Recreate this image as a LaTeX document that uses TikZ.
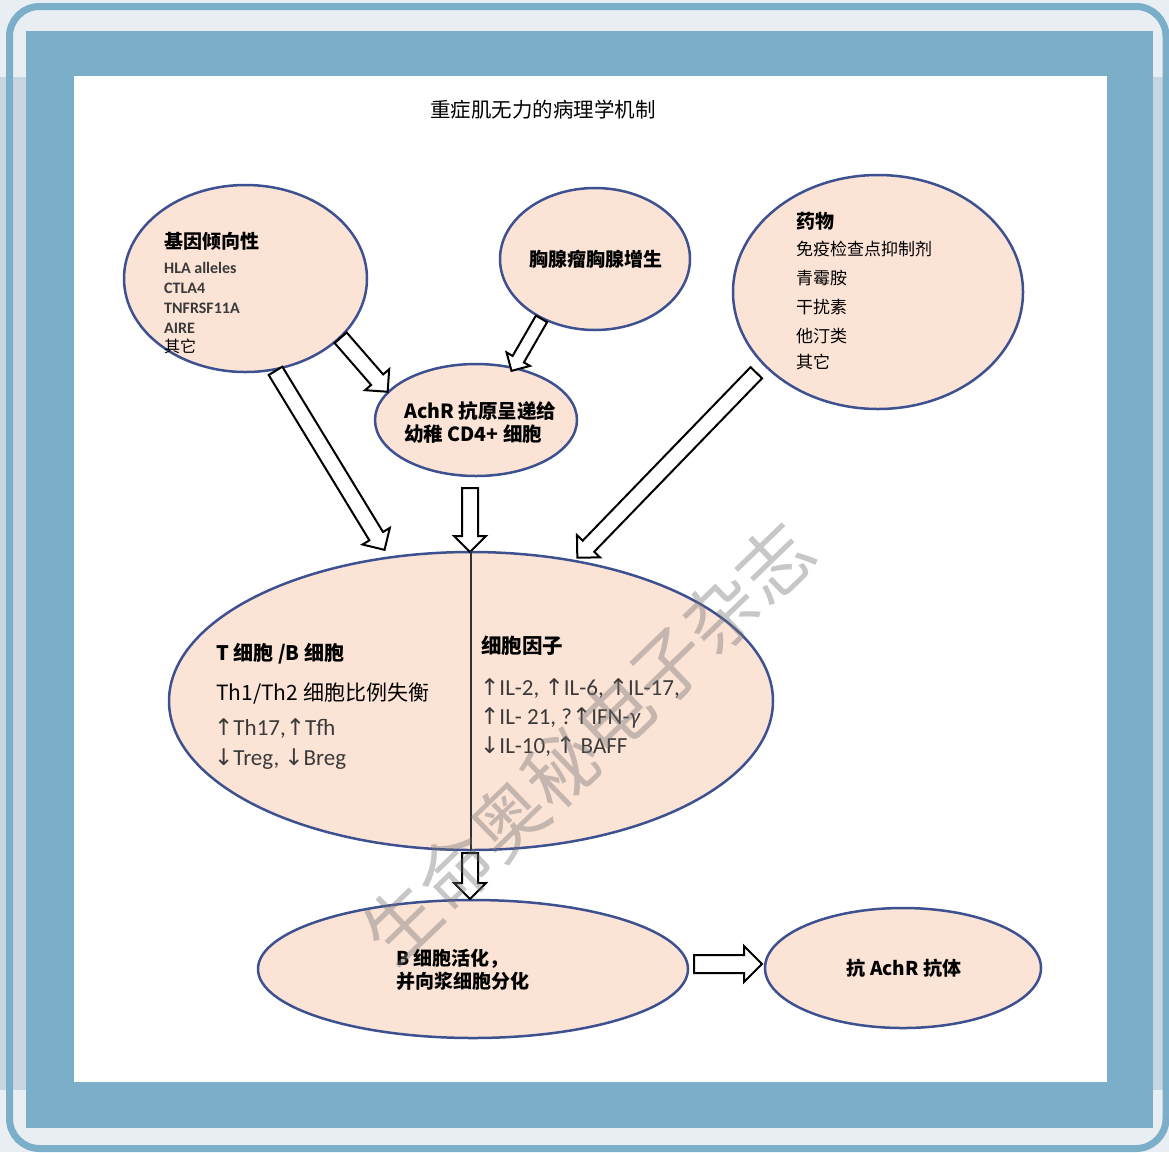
\documentclass[tikz,border=0pt]{standalone}
\usepackage{fontspec}
\setmainfont{Noto Sans CJK SC}
\newfontfamily\carlfont{Carlito}
\newfontfamily\arrfont{DejaVu Sans}
\usetikzlibrary{shapes.geometric,shapes.arrows,calc}

\definecolor{frameblue}{HTML}{7BAFC9}
\definecolor{pagegray}{HTML}{E9EEF2}
\definecolor{stripgray}{HTML}{C8D6E1}
\definecolor{peach}{HTML}{FBE3D6}
\definecolor{rimblue}{HTML}{3D5090}
\definecolor{listgray}{HTML}{3A3A3A}

\newcommand{\fsz}[1]{\fontsize{#1}{#1}\selectfont}
\newcommand{\ua}{{\arrfont ↑}}
\newcommand{\da}{{\arrfont ↓}}
% hollow block arrow from #2 to #3
\newcommand{\hollow}[3][]{\path let \p1=($(#3)-(#2)$), \n1={veclen(\x1,\y1)}, \n2={atan2(\y1,\x1)} in
  node[blockarrow,#1,rotate=\n2,minimum height=\n1] at (#2) {};}

\tikzset{
  oval/.style={ellipse, draw=rimblue, fill=peach, line width=2.5pt, inner sep=0pt},
  hd/.style={inner sep=0pt, anchor=west, font=\fsz{20}\bfseries},
  tx/.style={inner sep=0pt, anchor=west, font=\fsz{17}},
  lst/.style={inner sep=0pt, anchor=west, text=listgray, font=\carlfont\fsz{23}},
  blockarrow/.style={single arrow, draw=black, fill=white, line width=2pt, inner sep=0pt,
    inner ysep=7pt, single arrow head extend=8pt, single arrow tip angle=90, anchor=tail}
}

\begin{document}
\begin{tikzpicture}[x=1pt,y=-1pt]
\useasboundingbox (0,0) rectangle (1169,1152);

% frame
\fill[pagegray] (0,0) rectangle (1169,1152);
\fill[stripgray] (0,77) rectangle (1169,1090);
\draw[frameblue, line width=7pt, rounded corners=30pt] (9.5,6.5) rectangle (1166,1148.5);
\fill[frameblue] (26,31) rectangle (1153,1128);
\fill[white] (74,76) rectangle (1107,1082);

\node[font=\fsz{20.5}] (title) at (543,110) {重症肌无力的病理学机制};

\node[oval, minimum width=243, minimum height=187] (gene) at (245.5,278.5) {};
\node[oval, minimum width=190, minimum height=142] (thymus) at (595,259) {};
\node[oval, minimum width=290, minimum height=234] (drug) at (878,292) {};
\node[oval, minimum width=202, minimum height=112] (apc) at (476,420) {};
\node[oval, minimum width=604, minimum height=298] (big) at (471,701) {};
\node[oval, minimum width=430, minimum height=138] (bact) at (473,969) {};
\node[oval, minimum width=276, minimum height=120] (abody) at (903,968) {};

\coordinate (g1) at (275,370); \coordinate (g1e) at (384,549);
\coordinate (g2) at (340,337); \coordinate (g2e) at (387,391);
\coordinate (t1) at (542,318); \coordinate (t1e) at (512,370);
\coordinate (c1) at (470,487); \coordinate (c1e) at (470,551);
\coordinate (d1) at (757,372); \coordinate (d1e) at (578,557);
\coordinate (b1) at (470,852); \coordinate (b1e) at (470,898);
\coordinate (h1) at (693,964); \coordinate (h1e) at (761,964);

\hollow{g1}{g1e}
\hollow{g2}{g2e}
\hollow[inner ysep=5.5pt, single arrow head extend=7pt]{t1}{t1e}
\hollow{c1}{c1e}
\hollow{d1}{d1e}
\hollow{b1}{b1e}
\hollow[inner ysep=8pt, single arrow head extend=9pt]{h1}{h1e}

\draw[line width=1.5pt, black!80] (big.north) -- (big.south); % split cells / cytokines

% texts
\node[hd, font=\fsz{19}\bfseries] (geneh) at (164,241) {基因倾向性};
\foreach \t [count=\i] in {HLA alleles, CTLA4, TNFRSF11A, AIRE}
  \node[lst, font=\carlfont\bfseries\fsz{16}] (gl\i) at (164,248+20*\i) {\t};
\node[tx, font=\fsz{16}] (gl5) at (164,346) {其它};

\node[font=\fsz{19}\bfseries] (thymust) at (596,259) {胸腺瘤胸腺增生};

\node[hd, font=\fsz{19}\bfseries] (drugh) at (796,221) {药物};
\foreach \yy/\t [count=\i] in {249/免疫检查点抑制剂, 278/青霉胺, 307/干扰素, 336/他汀类, 362/其它}
  \node[tx] (dl\i) at (796,\yy) {\t};

\node[hd, font=\fsz{19.5}\bfseries] (apc1) at (404,411) {AchR 抗原呈递给};
\node[hd, font=\fsz{19.5}\bfseries] (apc2) at (404,434) {幼稚 CD4+ 细胞};

\node[hd] (tbh) at (216,654) {T 细胞 /B 细胞};
\node[tx, font=\fsz{21}] (tb1) at (216,694) {Th1/Th2 细胞比例失衡};
\node[lst] (tb2) at (214,729) {\ua Th17,\ua Tfh};
\node[lst] (tb3) at (214,759) {\da Treg, \da Breg};

\node[hd, font=\fsz{20.5}\bfseries] (cyth) at (481,646) {细胞因子};
\node[lst] (cy1) at (480,689) {\ua IL-2, \ua IL-6, \ua IL-17,};
\node[lst] (cy2) at (480,718) {\ua IL- 21, ?\ua IFN-{\itshape γ}};
\node[lst] (cy3) at (480,747) {\da IL-10, \ua\ BAFF};

\node[hd, font=\fsz{19}\bfseries] (bact1) at (396,959) {B 细胞活化，};
\node[hd, font=\fsz{19}\bfseries] (bact2) at (396,981) {并向浆细胞分化};
\node[font=\fsz{19}\bfseries] (abodyt) at (904,968) {抗 AchR 抗体};

% watermark
\node[font=\fsz{74}, text=black!55, opacity=0.4, rotate=44] (wm) at (588,742) {生命奥秘电子杂志};
\end{tikzpicture}
\end{document}
